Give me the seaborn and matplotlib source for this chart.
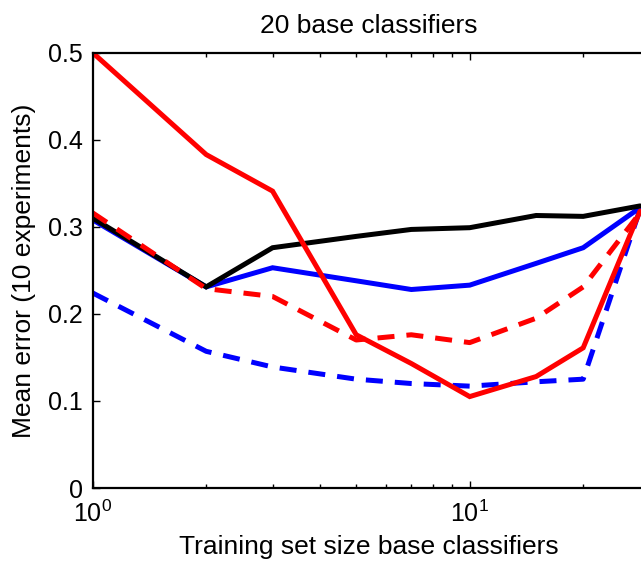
import matplotlib
matplotlib.use("Agg")
import matplotlib.pyplot as plt
import matplotlib.ticker as mticker
import seaborn as sns
import pandas as pd
import numpy as np

# ---- data ----
train_size = [1, 2, 3, 5, 7, 10, 15, 20, 28.3]
blue_solid = [0.308, 0.231, 0.253, 0.238, 0.228, 0.233, 0.258, 0.276, 0.322]
black_solid = [0.310, 0.231, 0.276, 0.289, 0.297, 0.299, 0.313, 0.312, 0.324]
blue_dashed = [0.224, 0.157, 0.139, 0.125, 0.120, 0.117, 0.122, 0.125, 0.320]
red_solid = [0.500, 0.383, 0.341, 0.176, 0.143, 0.105, 0.128, 0.161, 0.318]
red_dashed = [0.316, 0.229, 0.220, 0.170, 0.176, 0.167, 0.195, 0.231, 0.316]

series = [
    ("blue_solid", blue_solid, "#0000ff", "-"),
    ("black_solid", black_solid, "#000000", "-"),
    ("blue_dashed", blue_dashed, "#0000ff", "--"),
    ("red_solid", red_solid, "#ff0000", "-"),
    ("red_dashed", red_dashed, "#ff0000", "--"),
]

sns.set_style("white")
plt.rcParams["font.family"] = ["Liberation Sans", "DejaVu Sans"]
plt.rcParams["mathtext.fontset"] = "custom"
plt.rcParams["mathtext.rm"] = "Liberation Sans"
plt.rcParams["mathtext.it"] = "Liberation Sans"
plt.rcParams["text.color"] = "black"
plt.rcParams["axes.labelcolor"] = "black"
plt.rcParams["xtick.color"] = "black"
plt.rcParams["ytick.color"] = "black"

W, H = 641, 569
fig = plt.figure(figsize=(W / 100, H / 100), dpi=100)
left_px, right_px, top_px, bot_px = 92.7, 644.0, 52.7, 488.0
ax = fig.add_axes([left_px / W, (H - bot_px) / H, (right_px - left_px) / W, (bot_px - top_px) / H])

for name, vals, color, ls in series:
    df = pd.DataFrame({"x": train_size, "y": vals})
    sns.lineplot(data=df, x="x", y="y", ax=ax, color=color, linewidth=3.6,
                 linestyle=ls, estimator=None, sort=False)
for ln in ax.get_lines():
    if ln.get_linestyle() == "--":
        ln.set_dashes((3.4, 2.4))
    ln.set_solid_joinstyle("miter")
    ln.set_dash_capstyle("butt")

ax.set_xscale("log")
ax.set_xlim(1, 10 ** ((right_px - left_px) / 377.0))
ax.set_ylim(0, 0.5)
ax.set_yticks([0, 0.1, 0.2, 0.3, 0.4, 0.5])
ax.yaxis.set_major_formatter(mticker.FuncFormatter(lambda v, p: ("%g" % v)))
ax.xaxis.set_major_locator(mticker.LogLocator(base=10, numticks=10))
ax.xaxis.set_minor_locator(mticker.LogLocator(base=10, subs=np.arange(2, 10), numticks=10))
ax.xaxis.set_minor_formatter(mticker.NullFormatter())

for s in ax.spines.values():
    s.set_linewidth(1.6)
    s.set_color("black")

ax.tick_params(axis="both", which="major", direction="in", length=5, width=1.0,
               labelsize=18, top=True, bottom=True, left=True, right=False,
               pad=7, colors="black")
ax.tick_params(axis="x", which="minor", direction="in", length=3, width=1.0,
               top=True, bottom=True, colors="black")
ax.tick_params(axis="x", which="major", pad=9)

ax.set_title("20 base classifiers", fontsize=19, pad=14, color="black")
ax.set_xlabel("Training set size base classifiers", fontsize=19, labelpad=6, color="black")
ax.set_ylabel("Mean error (10 experiments)", fontsize=19, labelpad=9, color="black")

fig.savefig("out.png", dpi=100)
